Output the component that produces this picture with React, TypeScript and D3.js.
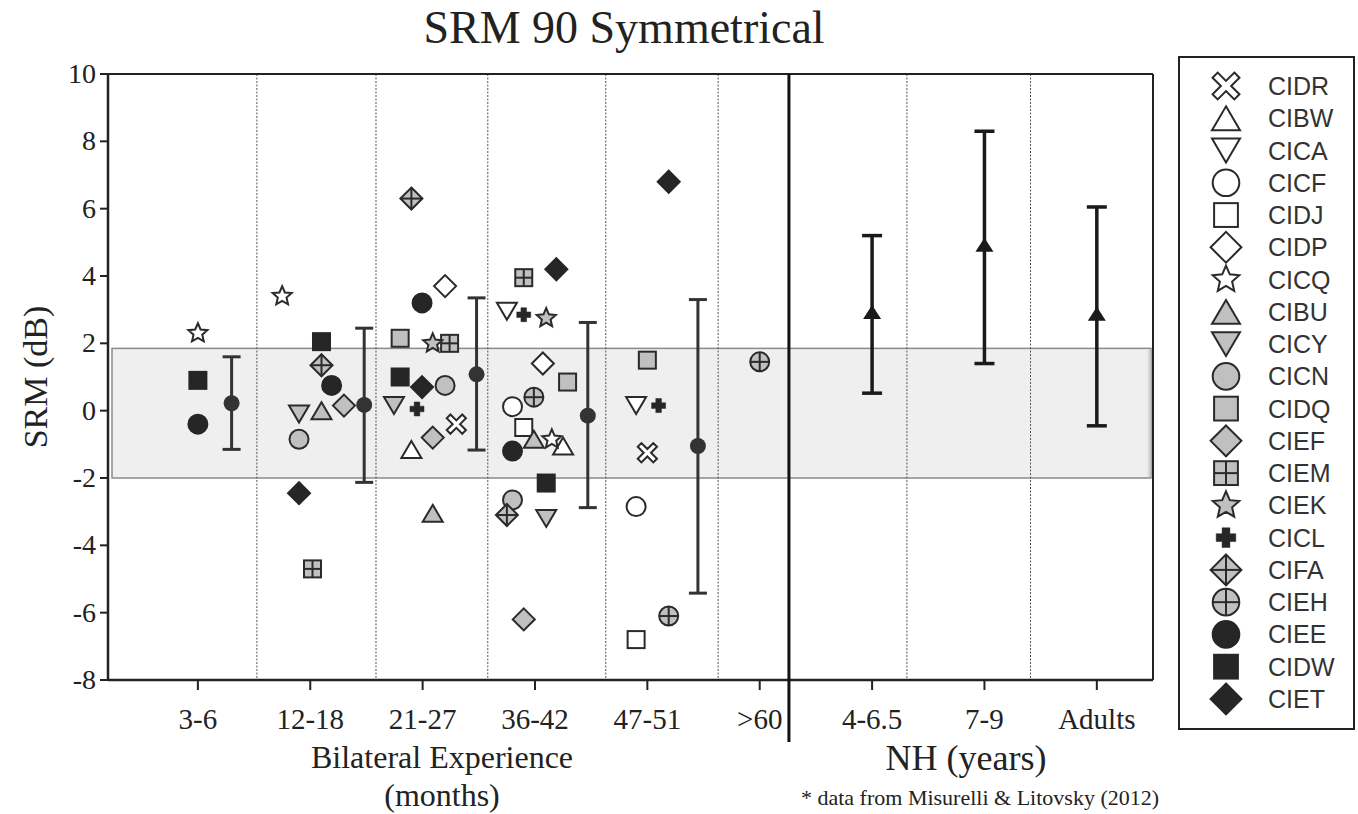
import React from "react";
import * as d3 from "d3";

// ---------- data ----------
const categories = ["3-6", "12-18", "21-27", "36-42", "47-51", ">60", "4-6.5", "7-9", "Adults"];
const categoryPositions = [1, 2, 3, 4, 5, 6, 7, 8, 9];
const yTicks = [-8, -6, -4, -2, 0, 2, 4, 6, 8, 10];
const dottedDividers = [1.525, 2.585, 3.58, 4.63, 5.63, 7.31, 8.41];
const groupDivider = 6.26;
const normalBand = [-2.0, 1.85];

// individual CI listeners: [x position, SRM dB]
const CIDR = [[3.3, -0.4], [5.0, -1.25]];
const CIBW = [[2.9, -1.15], [4.25, -1.05]];
const CICA = [[3.75, 2.95], [4.9, 0.15]];
const CICF = [[3.8, 0.12], [4.9, -2.85]];
const CIDJ = [[3.9, -0.5], [4.9, -6.8]];
const CIDP = [[3.2, 3.7], [4.07, 1.4]];
const CICQ = [[1.0, 2.3], [1.75, 3.4], [4.15, -0.85]];
const CIBU = [[2.1, 0.0], [3.09, -3.05], [3.99, -0.85]];
const CICY = [[1.9, -0.1], [2.745, 0.15], [4.1, -3.2]];
const CICN = [[1.9, -0.85], [3.2, 0.75], [3.8, -2.65]];
const CIDQ = [[2.8, 2.15], [4.29, 0.85], [5.0, 1.5]];
const CIEF = [[2.3, 0.15], [3.09, -0.8], [3.9, -6.2]];
const CIEM = [[2.02, -4.7], [3.24, 2.0], [3.9, 3.95]];
const CIEK = [[3.09, 2.0], [4.1, 2.75]];
const CICL = [[2.95, 0.05], [3.9, 2.85], [5.1, 0.15]];
const CIFA = [[2.1, 1.35], [2.9, 6.3], [3.75, -3.1]];
const CIEH = [[3.99, 0.4], [5.19, -6.1], [6.0, 1.45]];
const CIEE = [[1.0, -0.4], [2.19, 0.75], [2.995, 3.2], [3.8, -1.2]];
const CIDW = [[1.0, 0.9], [2.1, 2.05], [2.8, 1.0], [4.1, -2.15]];
const CIET = [[1.9, -2.45], [2.995, 0.7], [4.19, 4.2], [5.19, 6.8]];

// group means with error bars: [x, mean, upper, lower]
const ciMeans = [
  [1.3, 0.22, 1.6, -1.15],
  [2.48, 0.17, 2.45, -2.13],
  [3.48, 1.08, 3.35, -1.17],
  [4.47, -0.15, 2.62, -2.88],
  [5.45, -1.05, 3.3, -5.42],
];
const nhMeans = [
  [7, 2.9, 5.2, 0.52],
  [8, 4.9, 8.3, 1.4],
  [9, 2.85, 6.05, -0.45],
];

// ---------- styling ----------
const BLACK = "#262626";
const GRAY = "#c0c0c0";
const WHITE = "#ffffff";
const EDGE = "#2a2a2a";

type Shape = "x" | "triUp" | "triDown" | "circle" | "square" | "diamond" | "star" | "plus" | "gridSquare" | "crossDiamond" | "crossCircle";

const series: { name: string; data: number[][]; shape: Shape; fill: string }[] = [
  { name: "CIDR", data: CIDR, shape: "x", fill: WHITE },
  { name: "CIBW", data: CIBW, shape: "triUp", fill: WHITE },
  { name: "CICA", data: CICA, shape: "triDown", fill: WHITE },
  { name: "CICF", data: CICF, shape: "circle", fill: WHITE },
  { name: "CIDJ", data: CIDJ, shape: "square", fill: WHITE },
  { name: "CIDP", data: CIDP, shape: "diamond", fill: WHITE },
  { name: "CICQ", data: CICQ, shape: "star", fill: WHITE },
  { name: "CIBU", data: CIBU, shape: "triUp", fill: GRAY },
  { name: "CICY", data: CICY, shape: "triDown", fill: GRAY },
  { name: "CICN", data: CICN, shape: "circle", fill: GRAY },
  { name: "CIDQ", data: CIDQ, shape: "square", fill: GRAY },
  { name: "CIEF", data: CIEF, shape: "diamond", fill: GRAY },
  { name: "CIEM", data: CIEM, shape: "gridSquare", fill: GRAY },
  { name: "CIEK", data: CIEK, shape: "star", fill: GRAY },
  { name: "CICL", data: CICL, shape: "plus", fill: BLACK },
  { name: "CIFA", data: CIFA, shape: "crossDiamond", fill: GRAY },
  { name: "CIEH", data: CIEH, shape: "crossCircle", fill: GRAY },
  { name: "CIEE", data: CIEE, shape: "circle", fill: BLACK },
  { name: "CIDW", data: CIDW, shape: "square", fill: BLACK },
  { name: "CIET", data: CIET, shape: "diamond", fill: BLACK },
];

function starPath(R: number, r: number) {
  const pts: string[] = [];
  for (let i = 0; i < 10; i++) {
    const rad = i % 2 === 0 ? R : r;
    const a = -Math.PI / 2 + (i * Math.PI) / 5;
    pts.push(`${(rad * Math.cos(a)).toFixed(2)},${(rad * Math.sin(a)).toFixed(2)}`);
  }
  return "M" + pts.join("L") + "Z";
}

function crossPath(a: number, t: number, rot: number) {
  const base = [
    [-t, -a], [t, -a], [t, -t], [a, -t], [a, t], [t, t], [t, a], [-t, a], [-t, t], [-a, t], [-a, -t], [-t, -t],
  ];
  const c = Math.cos(rot), s = Math.sin(rot);
  return "M" + base.map(([x, y]) => `${(x * c - y * s).toFixed(2)},${(x * s + y * c).toFixed(2)}`).join("L") + "Z";
}

function Marker({ shape, fill, k, cx, cy }: { shape: Shape; fill: string; k: number; cx: number; cy: number }) {
  const stroke = fill === BLACK ? BLACK : EDGE;
  const sw = 2;
  const common = { fill, stroke, strokeWidth: sw };
  let el: React.ReactNode = null;
  switch (shape) {
    case "circle":
      el = <circle r={9.5 * k} {...common} />;
      break;
    case "square":
      el = <rect x={-8.5 * k} y={-8.5 * k} width={17 * k} height={17 * k} {...common} />;
      break;
    case "diamond":
      el = <path d={`M0,${-11 * k}L${11 * k},0L0,${11 * k}L${-11 * k},0Z`} {...common} strokeLinejoin="miter" />;
      break;
    case "triUp":
      el = <path d={`M0,${-8.5 * k}L${10 * k},${8.5 * k}L${-10 * k},${8.5 * k}Z`} {...common} />;
      break;
    case "triDown":
      el = <path d={`M0,${8.5 * k}L${10 * k},${-8.5 * k}L${-10 * k},${-8.5 * k}Z`} {...common} />;
      break;
    case "star":
      el = <path d={starPath(10 * k, 4.6 * k)} {...common} strokeLinejoin="miter" />;
      break;
    case "plus":
      el = <path d={crossPath(7 * k, 2.8 * k, 0)} fill={BLACK} stroke={BLACK} strokeWidth={0.5} />;
      break;
    case "x":
      el = <path d={crossPath(11 * k, 2.6 * k, Math.PI / 4)} {...common} />;
      break;
    case "gridSquare":
      el = (
        <g>
          <rect x={-8.5 * k} y={-8.5 * k} width={17 * k} height={17 * k} {...common} />
          <line x1={0} x2={0} y1={-8.5 * k} y2={8.5 * k} stroke={EDGE} strokeWidth={sw} />
          <line x1={-8.5 * k} x2={8.5 * k} y1={0} y2={0} stroke={EDGE} strokeWidth={sw} />
        </g>
      );
      break;
    case "crossDiamond":
      el = (
        <g>
          <path d={`M0,${-11 * k}L${11 * k},0L0,${11 * k}L${-11 * k},0Z`} {...common} />
          <line x1={0} x2={0} y1={-11 * k} y2={11 * k} stroke={EDGE} strokeWidth={sw} />
          <line x1={-11 * k} x2={11 * k} y1={0} y2={0} stroke={EDGE} strokeWidth={sw} />
        </g>
      );
      break;
    case "crossCircle":
      el = (
        <g>
          <circle r={9.5 * k} {...common} />
          <line x1={0} x2={0} y1={-9.5 * k} y2={9.5 * k} stroke={EDGE} strokeWidth={sw} />
          <line x1={-9.5 * k} x2={9.5 * k} y1={0} y2={0} stroke={EDGE} strokeWidth={sw} />
        </g>
      );
      break;
  }
  return <g transform={`translate(${cx},${cy})`}>{el}</g>;
}

const SERIF = "'Liberation Serif', 'Times New Roman', serif";
const SANS = "'Liberation Sans', Arial, sans-serif";

export default function App() {
  const W = 1358, H = 814;
  const left = 108, right = 1153, top = 74, bottom = 680;
  const x = d3.scaleLinear().domain([0.2, 9.5]).range([left, right]);
  const y = d3.scaleLinear().domain([-8, 10]).range([bottom, top]);

  const legendTop = 86, legendStep = 32.26;

  return (
    <svg width={W} height={H} style={{ position: "absolute", left: 0, top: 0, background: "#fff" }}>
      <rect x={0} y={0} width={W} height={H} fill="#fff" />
      {/* title */}
      <text x={624} y={43} textAnchor="middle" fontFamily={SERIF} fontSize={46} fill="#222">
        SRM 90 Symmetrical
      </text>

      {/* normal-hearing range band */}
      <defs>
        <linearGradient id="bandShadow" x1="0" x2="1" y1="0" y2="0">
          <stop offset="0" stopColor="#efefef" />
          <stop offset="1" stopColor="#bdbdbd" />
        </linearGradient>
      </defs>
      <rect
        x={left + 4}
        y={y(normalBand[1])}
        width={right - left - 6}
        height={y(normalBand[0]) - y(normalBand[1])}
        fill="#efefef"
        stroke="#8a8a8a"
        strokeWidth={1.5}
      />
      <rect x={right - 6} y={y(normalBand[1]) + 1} width={4} height={y(normalBand[0]) - y(normalBand[1]) - 2} fill="url(#bandShadow)" />

      {/* dividers */}
      {dottedDividers.map((d, i) => (
        <line key={i} x1={x(d)} x2={x(d)} y1={top} y2={bottom} stroke="#555" strokeWidth={1} strokeDasharray="2,1.5" />
      ))}

      {/* frame */}
      <line x1={left} x2={right} y1={top} y2={top} stroke="#222" strokeWidth={2} />
      <line x1={right} x2={right} y1={top} y2={bottom} stroke="#222" strokeWidth={2} />
      <line x1={left} x2={left} y1={top - 1} y2={bottom + 1} stroke="#222" strokeWidth={2.5} />
      <line x1={left} x2={right} y1={bottom} y2={bottom} stroke="#222" strokeWidth={2.5} />
      <line x1={x(groupDivider)} x2={x(groupDivider)} y1={top} y2={742} stroke="#111" strokeWidth={3} />

      {/* y axis */}
      {yTicks.map((t) => (
        <g key={t}>
          <line x1={left - 8} x2={left} y1={y(t)} y2={y(t)} stroke="#222" strokeWidth={2} />
          <text x={left - 12} y={y(t) + 9} textAnchor="end" fontFamily={SERIF} fontSize={28} fill="#222">
            {t}
          </text>
        </g>
      ))}
      <text
        transform={`translate(47,${(top + bottom) / 2}) rotate(-90)`}
        textAnchor="middle"
        fontFamily={SERIF}
        fontSize={34}
        fill="#222"
      >
        SRM (dB)
      </text>

      {/* x axis */}
      {categoryPositions.map((c, i) => (
        <g key={c}>
          <line x1={x(c)} x2={x(c)} y1={bottom} y2={bottom + 10} stroke="#222" strokeWidth={2} />
          <text x={x(c)} y={bottom + 49} textAnchor="middle" fontFamily={SERIF} fontSize={29} fill="#222">
            {categories[i]}
          </text>
        </g>
      ))}
      <text x={442} y={768} textAnchor="middle" fontFamily={SERIF} fontSize={32} fill="#222">
        Bilateral Experience
      </text>
      <text x={442} y={806} textAnchor="middle" fontFamily={SERIF} fontSize={32} fill="#222">
        (months)
      </text>
      <text x={966} y={770} textAnchor="middle" fontFamily={SERIF} fontSize={36} fill="#222">
        NH (years)
      </text>
      <text x={980} y={805} textAnchor="middle" fontFamily={SERIF} fontSize={22} fill="#222">
        * data from Misurelli &amp; Litovsky (2012)
      </text>

      {/* CI group means with error bars */}
      {ciMeans.map(([cx, m, hi, lo], i) => (
        <g key={i} stroke="#333" strokeWidth={3}>
          <line x1={x(cx)} x2={x(cx)} y1={y(hi)} y2={y(lo)} />
          <line x1={x(cx) - 9} x2={x(cx) + 9} y1={y(hi)} y2={y(hi)} />
          <line x1={x(cx) - 9} x2={x(cx) + 9} y1={y(lo)} y2={y(lo)} />
          <circle cx={x(cx)} cy={y(m)} r={8} fill="#333" stroke="none" />
        </g>
      ))}

      {/* NH means */}
      {nhMeans.map(([cx, m, hi, lo], i) => (
        <g key={i} stroke="#1a1a1a" strokeWidth={3.5}>
          <line x1={x(cx)} x2={x(cx)} y1={y(hi)} y2={y(lo)} />
          <line x1={x(cx) - 10} x2={x(cx) + 10} y1={y(hi)} y2={y(hi)} />
          <line x1={x(cx) - 10} x2={x(cx) + 10} y1={y(lo)} y2={y(lo)} />
          <path
            d={`M${x(cx)},${y(m) - 8}L${x(cx) + 9},${y(m) + 6}L${x(cx) - 9},${y(m) + 6}Z`}
            fill="#1a1a1a"
            stroke="none"
          />
        </g>
      ))}

      {/* individual points */}
      {series.map((s) =>
        s.data.map(([px, py], j) => (
          <Marker key={s.name + j} shape={s.shape} fill={s.fill} k={1} cx={x(px)} cy={y(py)} />
        ))
      )}

      {/* legend */}
      <rect x={1179} y={57} width={175} height={672} fill="#fff" stroke="#222" strokeWidth={2} />
      {series.map((s, i) => (
        <g key={s.name}>
          <Marker shape={s.shape} fill={s.fill} k={1.4} cx={1226} cy={legendTop + i * legendStep} />
          <text x={1268} y={legendTop + i * legendStep + 9} fontFamily={SANS} fontSize={25} fill="#333">
            {s.name}
          </text>
        </g>
      ))}
    </svg>
  );
}
